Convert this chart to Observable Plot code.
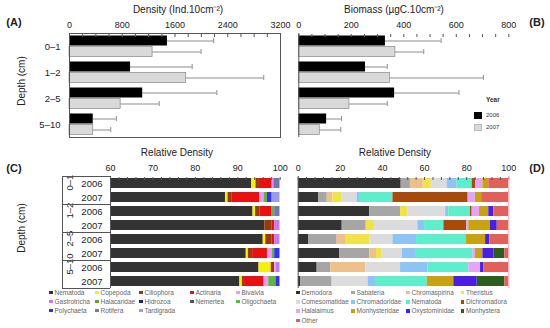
<!DOCTYPE html>
<html><head><meta charset="utf-8">
<script src="https://cdn.jsdelivr.net/npm/d3@7"></script>
<script src="https://cdn.jsdelivr.net/npm/@observablehq/plot@0.6"></script>
<style>
body{margin:0;background:#fff;}
#fig{position:relative;width:550px;height:328px;overflow:hidden;font-family:"Liberation Sans",Arial,sans-serif;color:#222;}
#fig > *{position:absolute;}
.c{transform:translate(-50%,-50%);white-space:nowrap;}
.rot{transform:translate(-50%,-50%) rotate(-90deg);white-space:nowrap;}
.lg{font-size:6.5px;color:#666;white-space:nowrap;line-height:1;}
.sw{display:inline-block;width:3.5px;height:3.5px;margin-right:2px;vertical-align:0.5px;}
</style></head><body><div id="fig"></div>
<script>
// ---------- data ----------
const depths = ["0–1", "1–2", "2–5", "5–10"];
const years = ["2006", "2007"];
const density2006 = [1485, 926, 1110, 360];
const densitySD2006 = [701, 934, 1125, 351];
const density2007 = [1260, 1770, 776, 360];
const densitySD2007 = [735, 1176, 584, 266];
const biomass2006 = [330, 254, 365, 106];
const biomassSD2006 = [212, 83, 245, 57];
const biomass2007 = [368, 347, 193, 80];
const biomassSD2007 = [108, 356, 144, 80];
const densityTicks = [0, 800, 1600, 2400, 3200];
const biomassTicks = [0, 200, 400, 600, 800];
const relTicksC = [60, 70, 80, 90, 100];
const relTicksD = [0, 20, 40, 60, 80, 100];
const yearColors = ["#000000", "#d9d9d9"];

const meioTaxa = ["Nematoda", "Copepoda", "Ciliophora", "Actinaria", "Bivalvia", "Gastrotricha", "Halacaridae", "Hidrozoa", "Nemertea", "Oligochaeta", "Polychaeta", "Rotifera", "Tardigrada"];
const meioColors = ["#333333", "#f5ee10", "#9a3a08", "#e81010", "#f29af2", "#c77be8", "#6a9a38", "#22225e", "#555555", "#62b446", "#3434e6", "#7476ae", "#9a9aee"];
// rows: 0–1 2006, 0–1 2007, 1–2 2006, 1–2 2007, 2–5 2006, 2–5 2007, 5–10 2006, 5–10 2007
const meioShares = [
  [93.3, 1.0, 0.8, 3.0, 0.4, 0, 0, 0, 0, 0, 0, 1.5, 0],
  [87.1, 0.6, 1.0, 6.5, 1.0, 0, 0, 0, 0, 0.8, 1.1, 0, 1.9],
  [93.6, 0.6, 1.0, 2.9, 0, 0, 0, 0, 0, 0.6, 0, 1.3, 0],
  [96.4, 0, 1.7, 0.6, 0, 1.3, 0, 0, 0, 0, 0, 0, 0],
  [96.0, 0.6, 1.5, 0.6, 0, 1.3, 0, 0, 0, 0, 0, 0, 0],
  [92.0, 0.5, 1.0, 3.5, 1.1, 0, 0, 0, 0, 0.6, 1.3, 0, 0],
  [95.0, 2.9, 0.8, 0, 0.3, 1.0, 0, 0, 0, 0, 0, 0, 0],
  [90.5, 0.6, 0.5, 4.6, 1.1, 0, 0, 0, 0, 1.7, 1.0, 0, 0]
];

const nemaGenera = ["Demodora", "Sabateria", "Chromaspirina", "Theristus", "Comesomatidae", "Chromadoridae", "Nematoda", "Dichromadora", "Halalaimus", "Monhysteridae", "Oxystominidae", "Monhystera", "Other"];
const nemaColors = ["#333333", "#a6a6a6", "#eec08c", "#f2e24a", "#dcdcdc", "#8ec3f5", "#5eeecb", "#a84a0c", "#e2a6f2", "#c9a212", "#4a1fe0", "#2e5e1e", "#e2605a"];
const nemaShares = [
  [48.9, 4.4, 6.1, 3.8, 7.6, 4.7, 7.1, 1.6, 3.5, 2.8, 0, 0, 9.5],
  [9.8, 4.0, 2.7, 4.1, 7.4, 1.1, 15.9, 35.7, 3.5, 2.9, 0, 0, 12.9],
  [33.9, 14.7, 0, 3.6, 17.8, 1.5, 10.3, 0.8, 3.5, 4.4, 2.4, 0, 7.1],
  [20.9, 11.4, 0, 3.9, 20.6, 3.2, 9.2, 10.8, 1.0, 10.3, 3.2, 0, 5.5],
  [5.1, 13.4, 4.3, 11.2, 11.0, 11.2, 23.7, 0, 0, 9.1, 2.0, 0, 9.0],
  [19.8, 14.2, 3.2, 2.7, 9.5, 6.3, 27.2, 0, 1.3, 3.5, 5.2, 5.2, 1.9],
  [9.0, 6.4, 16.7, 0, 16.5, 13.1, 19.3, 0, 5.6, 0, 1.6, 0, 11.8],
  [1.1, 15.0, 0, 0, 17.1, 3.5, 24.6, 0, 0, 12.6, 11.1, 13.1, 1.9]
];

// ---------- helpers ----------
const fig = document.getElementById("fig");
const font = '"Liberation Sans", Arial, sans-serif';
const baseStyle = {background: "transparent", fontFamily: font, fontSize: "9px", color: "#222", overflow: "visible"};
const plain = d => String(d);
function place(el, left, top) { el.style.left = left + "px"; el.style.top = top + "px"; fig.appendChild(el); return el; }
function label(text, x, y, cls, css) {
  const d = document.createElement("div"); d.className = cls; d.textContent = text;
  Object.assign(d.style, css || {}); return place(d, x, y);
}

function yearBars(vals, sds, domain, ticks, minorStep, w, ml, mr, full) {
  const rows = depths.flatMap((d, i) => years.map((y, j) => ({depth: d, year: y, v: vals[j][i], sd: sds[j][i]})));
  const r06 = rows.filter(r => r.year === years[0]);
  const r07 = rows.filter(r => r.year === years[1]);
  const ebar = {stroke: "#707070", strokeWidth: 0.8};
  return Plot.plot({
    width: w, height: 145, marginLeft: ml, marginRight: mr, marginTop: 33, marginBottom: 8,
    style: baseStyle,
    x: {domain},
    y: {type: "band", domain: depths, padding: 0},
    marks: [
      Plot.ruleY(r06, {y: "depth", x1: "v", x2: d => d.v + d.sd, dy: -5.5, ...ebar}),
      Plot.ruleY(r07, {y: "depth", x1: "v", x2: d => d.v + d.sd, dy: 5.5, ...ebar}),
      Plot.tickX(r06, {x: d => d.v + d.sd, y: "depth", insetTop: 5, insetBottom: 16, ...ebar}),
      Plot.tickX(r07, {x: d => d.v + d.sd, y: "depth", insetTop: 16, insetBottom: 5, ...ebar}),
      Plot.barX(r06, {x: "v", y: "depth", fill: yearColors[0], insetTop: 2.5, insetBottom: 13.5}),
      Plot.barX(r07, {x: "v", y: "depth", fill: yearColors[1], stroke: "#888", strokeWidth: 0.7, insetTop: 13.5, insetBottom: 2.5}),
      full ? Plot.frame({stroke: "#555"}) : Plot.ruleX([domain[0]], {stroke: "#555"}),
      full ? null : Plot.axisX({anchor: "bottom", ticks: [], line: true, label: null, stroke: "#555"}),
      Plot.axisX({anchor: "top", ticks, tickSize: 0, tickPadding: 6, tickFormat: plain, label: null, line: true, stroke: "#555"}),
      Plot.axisX({anchor: "top", ticks: d3.range(domain[0], domain[1] + 1e-9, minorStep), tickSize: -3, tickFormat: () => "", label: null, stroke: "#555"}),
      full ? Plot.axisY({tickSize: 0, tickPadding: 9, label: null, fontSize: 9.5}) : Plot.axisY({ticks: [], label: null})
    ]
  });
}

function relBars(taxa, colors, shares, domain, ticks, minorStep, w, ml, mr, withTable) {
  const rowKeys = depths.flatMap(d => years.map(y => d + "|" + y));
  const long = shares.flatMap((r, i) => r.map((v, k) => ({row: rowKeys[i], taxon: taxa[k], value: v})));
  const lastKey = rowKeys[rowKeys.length - 1];
  const fw = w - ml - mr;
  const marks = [
    Plot.barX(long, Plot.stackX({x: "value", y: "row", fill: "taxon", clip: true})),
    Plot.ruleX([domain[0]], {stroke: "#555"}),
    Plot.axisX({anchor: "top", ticks, tickSize: 0, tickPadding: 6, tickFormat: plain, label: null, line: true, stroke: "#555"}),
    Plot.axisX({anchor: "top", ticks: d3.range(domain[0], domain[1] + 1e-9, minorStep), tickSize: -3, tickFormat: () => "", label: null, stroke: "#555"})
  ];
  if (withTable) {
    marks.push(
      Plot.axisY({tickSize: 0, tickPadding: 8, tickFormat: k => k.split("|")[1], label: null, fontSize: 9.5}),
      Plot.text(depths, {y: d => d + "|" + years[0], text: d => d, frameAnchor: "left", dx: -41, dy: 7, rotate: -90, fontSize: 9.5}),
      Plot.ruleX([domain[0]], {dx: -48, stroke: "#555"}),
      Plot.ruleY(depths, {y: d => d + "|" + years[0], dy: -7, insetLeft: -48, insetRight: fw, stroke: "#555"}),
      Plot.ruleY([lastKey], {dy: 7, insetLeft: -48, insetRight: fw, stroke: "#555"})
    );
  } else {
    marks.push(Plot.axisY({ticks: [], label: null}), Plot.ruleX([domain[1]], {stroke: "#f4a3b6"}));
  }
  return Plot.plot({
    width: w, height: 145, marginLeft: ml, marginRight: mr, marginTop: 31, marginBottom: 2,
    style: baseStyle,
    x: {domain},
    y: {type: "band", domain: rowKeys, paddingInner: 0.28, paddingOuter: 0.14},
    color: {domain: taxa, range: colors},
    marks
  });
}

// ---------- panels ----------
place(yearBars([density2006, density2007], [densitySD2006, densitySD2007], [0, 3200], densityTicks, 200, 295, 69, 15, true), 0, 0);
place(yearBars([biomass2006, biomass2007], [biomassSD2006, biomassSD2007], [0, 800], biomassTicks, 50, 265, 13.3, 41.7, false), 285, 0);
place(relBars(meioTaxa, meioColors, meioShares, [60, 100], relTicksC, 2, 295, 110, 15.3, true), 0, 145);
place(relBars(nemaGenera, nemaColors, nemaShares, [0, 100], relTicksD, 4, 265, 12.7, 41.7, false), 285, 145);

// ---------- texts ----------
label("Density (Ind.10cm⁻²)", 178, 9, "c", {fontSize: "10px"});
label("Biomass (µgC.10cm⁻²)", 394, 9, "c", {fontSize: "10px"});
label("Relative Density", 177, 152, "c", {fontSize: "10px"});
label("Relative Density", 395, 152, "c", {fontSize: "10px"});
label("Depth (cm)", 21, 81, "rot", {fontSize: "10px"});
label("Depth (cm)", 21, 228, "rot", {fontSize: "10px"});
label("(A)", 14, 22, "c", {fontSize: "11px", fontWeight: "bold"});
label("(B)", 537, 22, "c", {fontSize: "11px", fontWeight: "bold"});
label("(C)", 14, 168, "c", {fontSize: "11px", fontWeight: "bold"});
label("(D)", 537, 168, "c", {fontSize: "11px", fontWeight: "bold"});

// year legend in (B)
label("Year", 486, 96, "", {fontSize: "6.5px", fontWeight: "bold", color: "#333"});
years.forEach((y, i) => {
  const sq = document.createElement("div");
  Object.assign(sq.style, {width: "8px", height: "7px", background: yearColors[i], border: i ? "0.5px solid #bbb" : "none", boxSizing: "border-box"});
  place(sq, 474, 112 + i * 12.3);
  label(y, 486, 111.5 + i * 12.3, "", {fontSize: "6px", color: "#333"});
});

// bottom legends
function legend(names, colors, cols, x0s, y0, pitch) {
  names.forEach((n, i) => {
    const d = document.createElement("div"); d.className = "lg";
    const s = document.createElement("span"); s.className = "sw"; s.style.background = colors[i];
    d.appendChild(s); d.appendChild(document.createTextNode(n));
    place(d, x0s[i % cols], y0 + Math.floor(i / cols) * pitch);
  });
}
legend(meioTaxa, meioColors, 5, [49, 95, 139, 190, 236], 289.5, 9.2);
legend(nemaGenera, nemaColors, 4, [296, 351, 406, 460.5], 289.8, 9.3);
</script></body></html>
